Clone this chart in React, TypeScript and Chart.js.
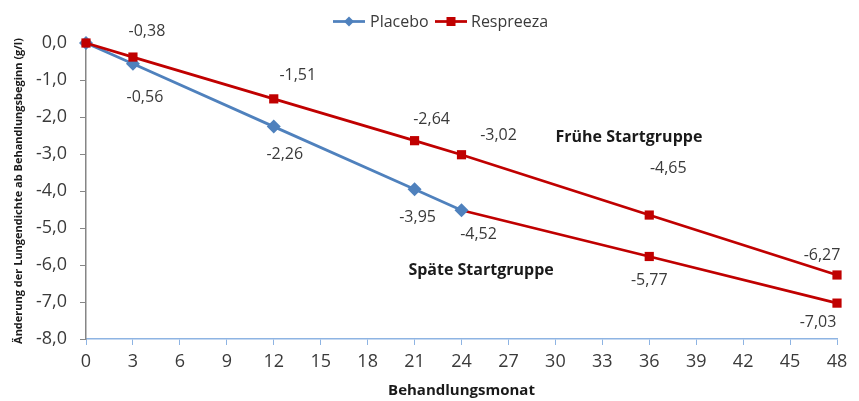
import React, { useEffect, useRef } from "react";
import { Chart, registerables } from "chart.js";

Chart.register(...registerables);

// ---- data ----
const earlyMonths = [0, 3, 12, 21, 24, 36, 48];
const earlyValues = [0, -0.38, -1.51, -2.64, -3.02, -4.65, -6.27];
const placeboMonths = [0, 3, 12, 21, 24];
const placeboValues = [0, -0.56, -2.26, -3.95, -4.52];
const lateMonths = [24, 36, 48];
const lateValues = [-4.52, -5.77, -7.03];
const seriesNames = ["Placebo", "Respreeza"];
const groupNames = ["Frühe Startgruppe", "Späte Startgruppe"];
const groupMonths = [34.7, 25.25];
const groupValues = [-2.54, -6.16];

// label offsets (px) from each point; null = no label
const earlyLabelOffsets: ([number, number] | null)[] = [null, [14, -26], [24, -23], [17, -21], [37, -19], [19, -47], [-15, -20]];
const placeboLabelOffsets: ([number, number] | null)[] = [null, [12, 34], [11, 28], [3, 28], [17, 24]];
const lateLabelOffsets: ([number, number] | null)[] = [null, [0, 24], [-19, 19]];

const BLUE = "#4f81bd";
const RED = "#c00000";
const TEXT = "#3a3a3a";
const FONT = "'Open Sans', 'Noto Sans', sans-serif";
const fmt = (v: number) => v.toFixed(2).replace(".", ",");

export default function App() {
  const ref = useRef<HTMLCanvasElement | null>(null);
  useEffect(() => {
    if (!ref.current) return;
    const toXY = (xs: number[], ys: number[]) => xs.map((x, i) => ({ x, y: ys[i] }));
    const datasetsOffsets = [earlyLabelOffsets, placeboLabelOffsets, lateLabelOffsets];

    const labelPlugin = {
      id: "labels",
      afterDatasetsDraw(chart: any) {
        const ctx = chart.ctx;
        ctx.save();
        ctx.font = `16px ${FONT}`;
        ctx.fillStyle = TEXT;
        ctx.textAlign = "center";
        ctx.textBaseline = "middle";
        chart.data.datasets.forEach((ds: any, di: number) => {
          const meta = chart.getDatasetMeta(di);
          const offs = datasetsOffsets[di];
          meta.data.forEach((pt: any, i: number) => {
            const o = offs[i];
            if (!o) return;
            ctx.fillText(fmt(ds.data[i].y), pt.x + o[0], pt.y + o[1]);
          });
        });
        // group annotations
        ctx.font = `bold 16px ${FONT}`;
        ctx.fillStyle = "#1a1a1a";
        const xs = chart.scales.x;
        const ys = chart.scales.y;
        groupNames.forEach((name, i) => {
          ctx.fillText(name, xs.getPixelForValue(groupMonths[i]), ys.getPixelForValue(groupValues[i]));
        });
        // legend
        const ly = 21.5;
        ctx.font = `16px ${FONT}`;
        ctx.textAlign = "left";
        const items = [
          { x: 333, tx: 370, color: BLUE, style: "diamond" },
          { x: 435, tx: 471, color: RED, style: "square" },
        ];
        items.forEach((it, i) => {
          ctx.strokeStyle = it.color;
          ctx.lineWidth = 2.75;
          ctx.beginPath();
          ctx.moveTo(it.x, ly);
          ctx.lineTo(it.x + 32, ly);
          ctx.stroke();
          ctx.fillStyle = it.color;
          const cx = it.x + 16;
          if (it.style === "diamond") {
            ctx.beginPath();
            ctx.moveTo(cx, ly - 5);
            ctx.lineTo(cx + 5, ly);
            ctx.lineTo(cx, ly + 5);
            ctx.lineTo(cx - 5, ly);
            ctx.closePath();
            ctx.fill();
          } else {
            ctx.fillRect(cx - 4.5, ly - 4.5, 9, 9);
          }
          ctx.fillStyle = TEXT;
          ctx.fillText(seriesNames[i], it.tx, ly + 1);
        });
        ctx.restore();
      },
    };

    const chart = new Chart(ref.current, {
      type: "line",
      data: {
        datasets: [
          {
            label: seriesNames[1],
            data: toXY(earlyMonths, earlyValues),
            borderColor: RED,
            backgroundColor: RED,
            borderWidth: 2.75,
            pointStyle: "rect",
            pointRadius: 6.5,
            pointBorderWidth: 0,
            clip: false,
            order: 0,
          },
          {
            label: seriesNames[0],
            data: toXY(placeboMonths, placeboValues),
            borderColor: BLUE,
            backgroundColor: BLUE,
            borderWidth: 2.75,
            pointStyle: "rectRot",
            pointRadius: 7,
            pointBorderWidth: 0,
            clip: false,
            order: 1,
          },
          {
            label: seriesNames[1] + " (spät)",
            data: toXY(lateMonths, lateValues),
            borderColor: RED,
            backgroundColor: RED,
            borderWidth: 2.75,
            pointStyle: "rect",
            pointRadius: [0, 6.5, 6.5],
            pointBorderWidth: 0,
            clip: false,
            order: 2,
          },
        ],
      },
      options: {
        animation: false,
        responsive: false,
        maintainAspectRatio: false,
        layout: { padding: { left: 0, right: 22, top: 43, bottom: 0 } },
        plugins: {
          legend: { display: false },
          tooltip: { enabled: false },
        },
        scales: {
          x: {
            type: "linear",
            min: 0,
            max: 48,
            afterFit: (s: any) => { s.height = 62; },
            border: { color: "#8eb4e3", width: 1.5 },
            grid: { drawOnChartArea: false, drawTicks: true, tickLength: 6, color: "#8eb4e3" },
            ticks: { stepSize: 3, padding: 6, color: TEXT, font: { family: FONT, size: 18 } },
            title: { display: true, text: "Behandlungsmonat", color: "#1a1a1a", font: { family: FONT, size: 15, weight: "bold" }, padding: { top: 0, bottom: 1 } },
          },
          y: {
            type: "linear",
            min: -8,
            max: 0,
            afterFit: (s: any) => { s.width = 86; },
            border: { color: "#868686", width: 1.5 },
            grid: { drawOnChartArea: false, drawTicks: true, tickLength: 6, color: "#868686" },
            ticks: {
              stepSize: 0.5,
              padding: 13,
              color: TEXT,
              font: { family: FONT, size: 18 },
              callback: (v: any) => (Number.isInteger(v) ? (v as number).toFixed(1).replace(".", ",") : ""),
            },
            title: { display: true, text: "Änderung der Lungendichte ab Behandlungsbeginn (g/l)", color: "#1a1a1a", font: { family: FONT, size: 11, weight: "bold" }, padding: { top: 12, bottom: 0 } },
          },
        },
      },
      plugins: [labelPlugin],
    } as any);
    return () => chart.destroy();
  }, []);

  return (
    <div style={{ position: "absolute", left: 0, top: 0, width: 859, height: 401, background: "#fff" }}>
      <canvas ref={ref} width={859} height={401} style={{ width: 859, height: 401, display: "block" }} />
    </div>
  );
}
